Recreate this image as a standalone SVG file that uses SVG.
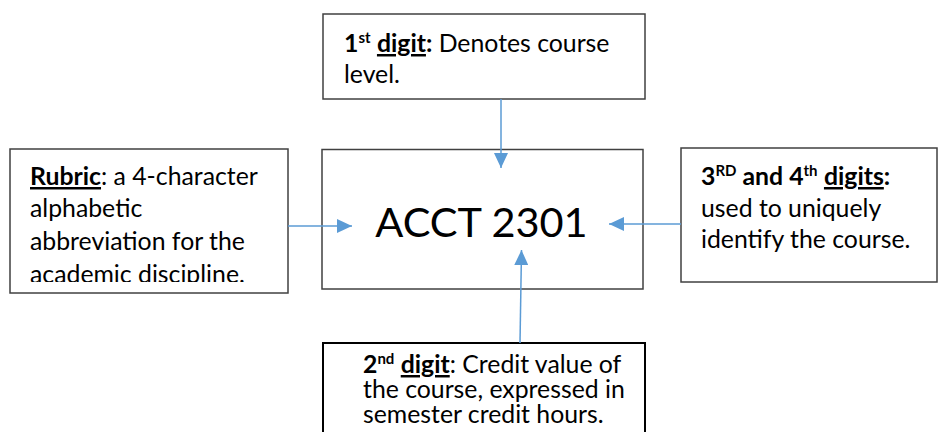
<svg xmlns="http://www.w3.org/2000/svg" width="938" height="432" viewBox="0 0 938 432">
<style>
  .box { fill: #ffffff; stroke: #404040; stroke-width: 1.5; }
  .box2 { fill: #ffffff; stroke: #000000; stroke-width: 2; }
  .t { font-family: Lato, "Open Sans", "Liberation Sans", sans-serif; font-size: 24.8px; fill: #000000; }
  .big { font-family: Lato, "Open Sans", "Liberation Sans", sans-serif; font-size: 41.5px; fill: #000000; }
  .b { font-weight: bold; }
  .u { text-decoration: underline; }
  .sup { font-size: 15px; }
  .conn { stroke: #5B9BD5; stroke-width: 1.5; fill: none; marker-end: url(#ah); }
</style>
<defs>
  <marker id="ah" viewBox="0 0 15 14" refX="15" refY="7" markerWidth="15" markerHeight="14" markerUnits="userSpaceOnUse" orient="auto">
    <path d="M0,0 L15,7 L0,14 z" fill="#5B9BD5"/>
  </marker>
  <clipPath id="clipL">
    <rect x="10" y="149" width="278" height="133"/>
  </clipPath>
</defs>
<rect width="938" height="432" fill="#ffffff"/>

<g id="node-center">
  <rect class="box" x="322" y="149.5" width="321" height="139.5"/>
  <text class="big" x="481.5" y="237" text-anchor="middle">ACCT 2301</text>
</g>

<g id="node-top">
  <rect class="box" x="323" y="14" width="322" height="85"/>
  <text class="t" x="344" y="52"><tspan class="b">1</tspan><tspan class="b sup" dy="-9">st</tspan><tspan dy="9"> </tspan><tspan class="b u">digit</tspan><tspan class="b">:</tspan> Denotes course</text>
  <text class="t" x="344" y="83">level.</text>
</g>

<g id="node-left">
  <rect class="box" x="10" y="149" width="278" height="144"/>
  <g clip-path="url(#clipL)">
    <text class="t" x="30" y="185"><tspan class="b u">Rubric</tspan>: a 4-character</text>
    <text class="t" x="30" y="217">alphabetic</text>
    <text class="t" x="30" y="250">abbreviation for the</text>
    <text class="t" x="30" y="282.5">academic discipline.</text>
  </g>
</g>

<g id="node-right">
  <rect class="box" x="681" y="148" width="256" height="134"/>
  <text class="t" x="701" y="185"><tspan class="b">3</tspan><tspan class="b sup" dy="-9">RD</tspan><tspan class="b" dy="9"> and 4</tspan><tspan class="b sup" dy="-9">th</tspan><tspan dy="9"> </tspan><tspan class="b u">digits</tspan><tspan class="b">:</tspan></text>
  <text class="t" x="701" y="217">used to uniquely</text>
  <text class="t" x="701" y="248">identify the course.</text>
</g>

<g id="node-bottom">
  <rect class="box2" x="323" y="343" width="322" height="100"/>
  <text class="t" x="363" y="373"><tspan class="b">2</tspan><tspan class="b sup" dy="-9">nd</tspan><tspan dy="9"> </tspan><tspan class="b u">digit</tspan>: Credit value of</text>
  <text class="t" x="363" y="397.5">the course, expressed in</text>
  <text class="t" x="363" y="422.5">semester credit hours.</text>
</g>

<g id="connectors">
  <line class="conn" x1="501" y1="99" x2="501" y2="168"/>
  <line class="conn" x1="288" y1="226" x2="352" y2="226"/>
  <line class="conn" x1="681" y1="224" x2="609" y2="224"/>
  <line class="conn" x1="520" y1="343" x2="521.5" y2="250"/>
</g>
</svg>
